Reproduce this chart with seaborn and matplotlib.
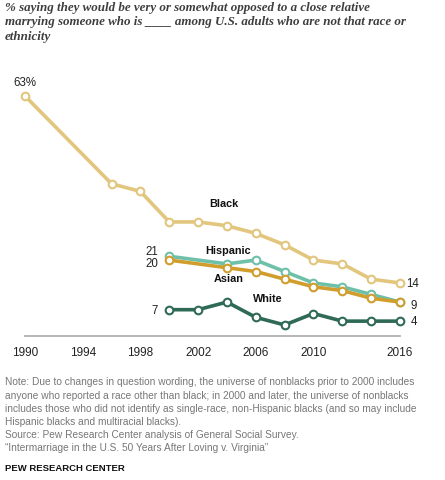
import pandas as pd
import matplotlib.pyplot as plt
import seaborn as sns

# ---------------------------------------------------------------
# Data
# ---------------------------------------------------------------
black_years = [1990, 1996, 1998, 2000, 2002, 2004, 2006, 2008, 2010, 2012, 2014, 2016]
black_vals = [63, 40, 38, 30, 30, 29, 27, 24, 20, 19, 15, 14]

hispanic_years = [2000, 2004, 2006, 2008, 2010, 2012, 2014, 2016]
hispanic_vals = [21, 19, 20, 17, 14, 13, 11, 9]

asian_years = [2000, 2004, 2006, 2008, 2010, 2012, 2014, 2016]
asian_vals = [20, 18, 17, 15, 13, 12, 10, 9]

white_years = [2000, 2002, 2004, 2006, 2008, 2010, 2012, 2014, 2016]
white_vals = [7, 7, 9, 5, 3, 6, 4, 4, 4]

tick_years = [1990, 1994, 1998, 2002, 2006, 2010, 2016]

colors = {
    'Black': '#E2C67D',
    'Hispanic': '#6FC0A9',
    'Asian': '#D19E2E',
    'White': '#2E6A56',
}

series = [
    ('White', white_years, white_vals),
    ('Hispanic', hispanic_years, hispanic_vals),
    ('Asian', asian_years, asian_vals),
    ('Black', black_years, black_vals),
]

# ---------------------------------------------------------------
# Figure
# ---------------------------------------------------------------
sns.set_theme(style='white')
plt.rcParams['font.family'] = ['Liberation Sans', 'DejaVu Sans']

W, H = 445, 481
fig = plt.figure(figsize=(W / 100, H / 100), dpi=100)

# axes placed so 1990 -> x=25px, 2016 -> x=400px, 0% -> y=337px
px_per_year = (400 - 25) / 26
x0 = 1990 - 25 / px_per_year
x1 = x0 + W / px_per_year
px_per_pct = (337.4 - 97) / 63
top_px = 80
ax = fig.add_axes([0, (H - 337.4) / H, 1, (337.4 - top_px) / H])
ax.set_xlim(x0, x1)
ax.set_ylim(0, (337.4 - top_px) / px_per_pct)

for name, yrs, vals in series:
    df = pd.DataFrame({'year': yrs, 'value': vals})
    sns.lineplot(data=df, x='year', y='value', ax=ax, color=colors[name],
                 linewidth=2.6, marker='o', markersize=5.5,
                 markerfacecolor='white', markeredgecolor=colors[name],
                 markeredgewidth=1.5, clip_on=False)

for s in ['left', 'right', 'top']:
    ax.spines[s].set_visible(False)
ax.spines['bottom'].set_color('#b0b0b0')
ax.spines['bottom'].set_linewidth(1.3)
ax.spines['bottom'].set_bounds(1990, 2016)
ax.set_yticks([])
ax.set_xticks(tick_years)
ax.set_xticklabels([str(y) for y in tick_years], fontsize=8.5, color='#222222')
ax.tick_params(axis='x', length=0, pad=7)
ax.set_xlabel('')
ax.set_ylabel('')

# value labels
lab = dict(fontsize=8.3, color='#222222')
ax.text(1990, black_vals[0] + 2.1, '63%', ha='center', va='bottom', **lab)
ax.annotate(str(hispanic_vals[0]), (2000, hispanic_vals[0]), xytext=(-8, 3.6),
            textcoords='offset points', ha='right', va='center', **lab)
ax.annotate(str(asian_vals[0]), (2000, asian_vals[0]), xytext=(-8, -1.8),
            textcoords='offset points', ha='right', va='center', **lab)
ax.annotate(str(white_vals[0]), (2000, white_vals[0]), xytext=(-8, 0),
            textcoords='offset points', ha='right', va='center', **lab)
ax.annotate(str(black_vals[-1]), (2016, black_vals[-1]), xytext=(4.5, 0),
            textcoords='offset points', ha='left', va='center', **lab)
ax.annotate(str(asian_vals[-1]), (2016, asian_vals[-1]), xytext=(7.5, -2),
            textcoords='offset points', ha='left', va='center', **lab)
ax.annotate(str(white_vals[-1]), (2016, white_vals[-1]), xytext=(8, 0),
            textcoords='offset points', ha='left', va='center', **lab)

# series names
name_style = dict(fontsize=7.8, fontweight='bold', color='#111111',
                  ha='center', va='center')
ax.text(2003.8, 35, 'Black', **name_style)
ax.text(2004.1, 22.6, 'Hispanic', **name_style)
ax.text(2004.1, 15.3, 'Asian', **name_style)
ax.text(2006.85, 10.1, 'White', **name_style)

# title
fig.text(5 / W, 1 - 1.5 / H,
         '% saying they would be very or somewhat opposed to a close relative\n'
         'marrying someone who is ____ among U.S. adults who are not that race or\n'
         'ethnicity',
         ha='left', va='top', fontsize=9.4, fontweight='bold', fontstyle='italic',
         family=['Liberation Serif', 'DejaVu Serif'], color='#3e3e3e',
         linespacing=1.32)

# note
fig.text(5 / W, 1 - 377.5 / H,
         'Note: Due to changes in question wording, the universe of nonblacks prior to 2000 includes\n'
         'anyone who reported a race other than black; in 2000 and later, the universe of nonblacks\n'
         'includes those who did not identify as single-race, non-Hispanic blacks (and so may include\n'
         'Hispanic blacks and multiracial blacks).\n'
         'Source: Pew Research Center analysis of General Social Survey.\n'
         '\u201cIntermarriage in the U.S. 50 Years After Loving v. Virginia\u201d',
         ha='left', va='top', fontsize=7.3, color='#777777', linespacing=1.4)

fig.text(5 / W, 1 - 469 / H, 'PEW RESEARCH CENTER', ha='left', va='center',
         fontsize=6.8, fontweight='bold', color='#111111')

fig.savefig('out.png', dpi=100)
